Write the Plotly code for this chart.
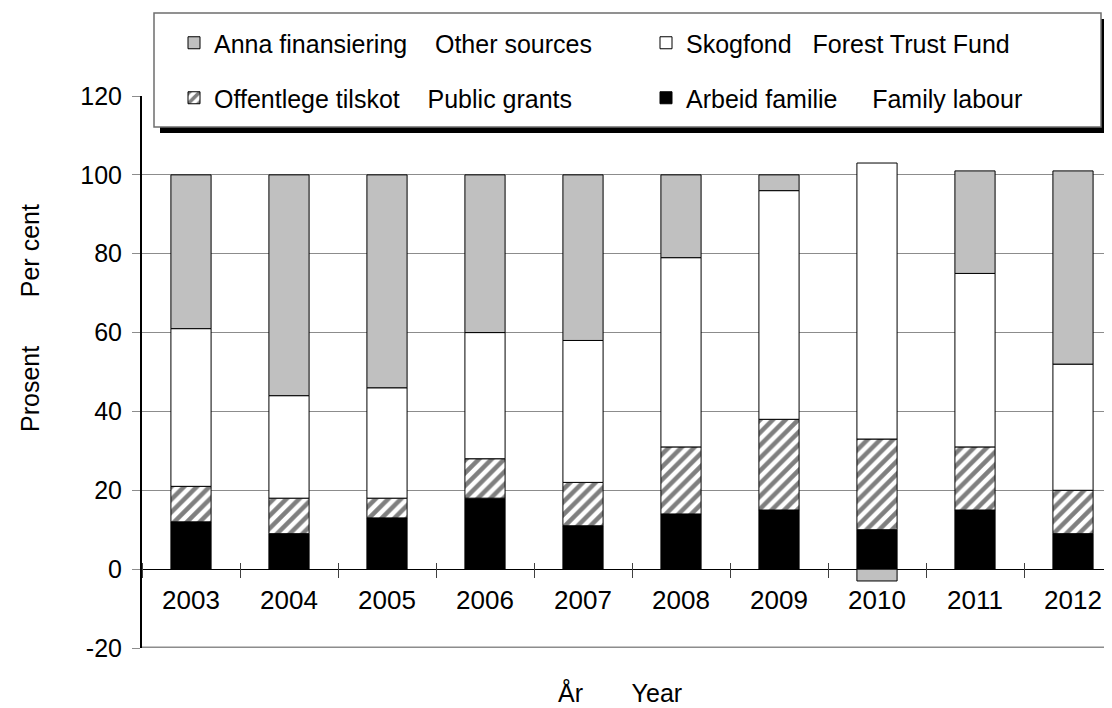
import plotly.graph_objects as go

years = ["2003", "2004", "2005", "2006", "2007", "2008", "2009", "2010", "2011", "2012"]
family_labour = [12, 9, 13, 18, 11, 14, 15, 10, 15, 9]
public_grants = [9, 9, 5, 10, 11, 17, 23, 23, 16, 11]
forest_trust_fund = [40, 26, 28, 32, 36, 48, 58, 70, 44, 32]
other_sources = [39, 56, 54, 40, 42, 21, 4, -3, 26, 49]
y_ticks = [-20, 0, 20, 40, 60, 80, 100, 120]
y_tick_labels = ["-20", "0", "20", "40", "60", "80", "100", "120"]

NB = "\u00a0"
names = {
    "other": "Anna finansiering" + NB * 4 + "Other sources",
    "forest": "Skogfond" + NB * 3 + "Forest Trust Fund",
    "public": "Offentlege tilskot" + NB * 4 + "Public grants",
    "family": "Arbeid familie" + NB * 5 + "Family labour",
}

FONT = "Liberation Sans, Arial, sans-serif"
line = dict(color="black", width=1)

# page offset of the figure (default body margin of the html page)
OFF = 8
W, H = 1112 - OFF, 708 - OFF
# plot area in page pixels
PL, PR, PT, PB = 142, 1112, 96, 648
L, R, T, B = PL - OFF, 0, PT - OFF, H - (PB - OFF)
pw, ph = W - L - R, H - T - B


def px(xpage):
    return (xpage - OFF - L) / pw


def py(ypage):
    return (H - B - (ypage - OFF)) / ph


fig = go.Figure()
fig.add_trace(go.Bar(x=years, y=family_labour, name=names["family"],
                     marker=dict(color="black", line=line), legend="legend4"))
fig.add_trace(go.Bar(x=years, y=public_grants, name=names["public"],
                     marker=dict(color="white", line=line,
                                 pattern=dict(shape="/", fgcolor="black", bgcolor="white",
                                              size=9, solidity=0.5)),
                     legend="legend3"))
fig.add_trace(go.Bar(x=years, y=forest_trust_fund, name=names["forest"],
                     marker=dict(color="white", line=line), legend="legend2"))
fig.add_trace(go.Bar(x=years, y=other_sources, name=names["other"],
                     marker=dict(color="#C0C0C0", line=line), legend="legend"))

leg_common = dict(orientation="h", bgcolor="rgba(0,0,0,0)", borderwidth=0,
                  font=dict(family=FONT, size=25, color="black"),
                  xanchor="left", yanchor="middle", itemclick=False, itemdoubleclick=False)

col1, col2 = 174, 646
row1, row2 = 43, 98

# category width in pixels -> x range so that the plot is clipped like the reference
cat_w = 98.0
x_end = (PR - PL) / cat_w - 0.5

fig.update_layout(
    width=W, height=H,
    margin=dict(l=L, r=R, t=T, b=B, pad=0),
    paper_bgcolor="white", plot_bgcolor="white",
    barmode="relative", bargap=0.59,
    font=dict(family=FONT, size=25, color="black"),
    showlegend=True,
    legend=dict(x=px(col1), y=py(row1), **leg_common),
    legend2=dict(x=px(col2), y=py(row1), **leg_common),
    legend3=dict(x=px(col1), y=py(row2), **leg_common),
    legend4=dict(x=px(col2), y=py(row2), **leg_common),
    xaxis=dict(type="category", range=[-0.5, x_end], anchor="free", position=py(562),
               showline=False, showgrid=False, zeroline=False,
               ticks="outside", ticklen=15, tickwidth=1, tickcolor="#404040",
               tickson="boundaries", ticklabelstandoff=20,
               tickfont=dict(family=FONT, size=26, color="black")),
    yaxis=dict(range=[-20, 120], tickvals=y_ticks, ticktext=y_tick_labels,
               showgrid=True, gridcolor="#8c8c8c", gridwidth=1,
               zeroline=True, zerolinecolor="black", zerolinewidth=1,
               showline=True, linecolor="black", linewidth=2,
               ticks="outside", ticklen=8, tickcolor="#8c8c8c",
               ticklabelstandoff=5,
               tickfont=dict(family=FONT, size=25, color="black")),
    shapes=[
        # plot-area bottom border
        dict(type="line", xref="paper", yref="y", x0=0, x1=1, y0=-20, y1=-20,
             line=dict(color="#8c8c8c", width=3), layer="above"),
        # legend shadow
        dict(type="rect", xref="paper", yref="paper", x0=px(160), x1=px(1108),
             y0=py(133), y1=py(19), fillcolor="black", line=dict(width=0), layer="above"),
        # legend box
        dict(type="rect", xref="paper", yref="paper", x0=px(154), x1=px(1101),
             y0=py(127), y1=py(13), fillcolor="white",
             line=dict(color="#6e6e6e", width=1.5), layer="above"),
    ],
    annotations=[
        dict(text="Prosent" + NB * 7 + "Per cent", textangle=-90, xref="paper", yref="paper",
             x=px(30), y=py(318), xanchor="center", yanchor="middle", showarrow=False,
             font=dict(family=FONT, size=25, color="black")),
        dict(text="År" + NB * 7 + "Year", xref="paper", yref="paper",
             x=px(620), y=py(692), xanchor="center", yanchor="middle", showarrow=False,
             font=dict(family=FONT, size=25, color="black")),
    ],
)

fig.write_html("out.html")
